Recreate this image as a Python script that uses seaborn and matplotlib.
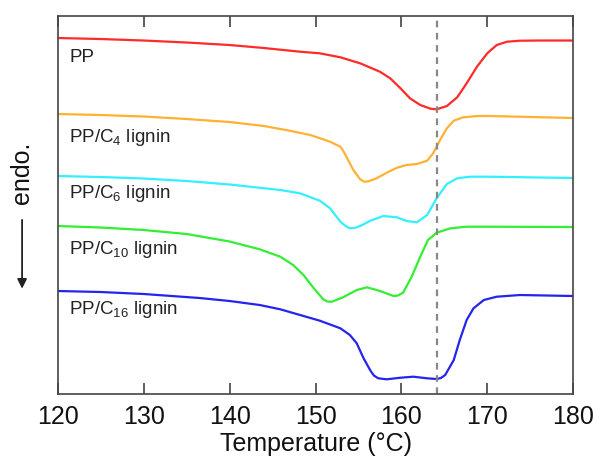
import numpy as np
import pandas as pd
import seaborn as sns
import matplotlib.pyplot as plt

# DSC melting curves (heat flow, a.u., curves offset)
t_pp = [120, 125, 130, 135, 140, 144, 148.2, 150.5, 152.9, 155.2, 157.5, 158.7, 159.9, 161.0, 162.2,
        163.4, 164.1, 165.3, 166.5, 167.6, 168.8, 170.0, 171.1, 172.3, 173.8, 176, 180]
y_pp = [35.6, 35.5, 35.35, 35.15, 34.9, 34.6, 34.23, 34.07, 33.67, 33.07, 32.23, 31.57, 30.57, 29.57, 28.9,
        28.53, 28.47, 28.8, 29.67, 31.07, 32.73, 34.07, 34.9, 35.23, 35.33, 35.35, 35.35]

t_c4 = [120, 125, 130, 135, 140, 144, 147.0, 149.4, 151.7, 152.9, 153.2, 153.6, 154.4, 155.2, 155.7, 156.2,
        157.1, 158.3, 159.5, 160.6, 161.8, 163.0, 163.7, 164.5, 165.3, 166.1, 167.2, 168.8, 170.3, 180]
y_c4 = [28.0, 27.9, 27.75, 27.5, 27.2, 26.8, 26.33, 25.9, 25.23, 24.73, 24.35, 23.73, 22.4, 21.47, 21.22, 21.28,
        21.57, 22.13, 22.63, 22.9, 23.0, 23.33, 24.07, 25.4, 26.57, 27.33, 27.67, 27.8, 27.8, 27.6]

t_c6 = [120, 125, 130, 135, 140, 145.9, 148.2, 150.5, 151.7, 152.9, 153.5, 154.0, 154.6, 155.2, 156.4,
        157.9, 159.5, 160.6, 161.8, 163.0, 164.1, 165.3, 166.5, 168.0, 170.3, 180]
y_c6 = [21.8, 21.7, 21.55, 21.3, 20.95, 20.4, 20.07, 19.33, 18.57, 17.23, 16.8, 16.57, 16.62, 16.8, 17.33,
        17.8, 17.67, 17.3, 17.17, 17.9, 19.57, 21.0, 21.57, 21.73, 21.73, 21.6]

t_c10 = [120, 125, 130, 135, 140, 143.5, 145.9, 147.4, 148.6, 149.8, 150.9, 151.4, 151.9, 153.2, 154.8,
         156.0, 157.5, 159.1, 159.6, 160.2, 161.2, 162.2, 163.1, 164.1, 165.7, 167.6, 170.3, 180]
y_c10 = [16.8, 16.65, 16.4, 16.0, 15.25, 14.47, 13.73, 12.9, 11.9, 10.57, 9.47, 9.25, 9.23, 9.67, 10.4,
         10.67, 10.3, 9.8, 9.85, 10.13, 11.73, 13.73, 15.4, 16.13, 16.57, 16.73, 16.73, 16.7]

t_c16 = [120, 125, 130, 136.5, 140, 143.5, 145.9, 148.2, 150.5, 152.9, 154.0, 154.8, 155.6, 156.4, 156.8,
         157.3, 158.3, 159.9, 161.4, 163.0, 164.1, 164.6, 165.1, 166.1, 166.8, 167.6, 168.4, 169.6, 171.1,
         173.8, 180]
y_c16 = [10.3, 10.2, 10.0, 9.6, 9.3, 8.9, 8.47, 7.9, 7.33, 6.57, 5.9, 5.07, 3.57, 2.33, 1.85,
         1.57, 1.47, 1.63, 1.73, 1.57, 1.5, 1.6, 1.9, 3.4, 5.4, 7.4, 8.57, 9.4, 9.73,
         9.9, 9.8]

samples = ['PP', 'PP/C4 lignin', 'PP/C6 lignin', 'PP/C10 lignin', 'PP/C16 lignin']
labels = ['PP', r'PP/C$_{4}$ lignin', r'PP/C$_{6}$ lignin', r'PP/C$_{10}$ lignin', r'PP/C$_{16}$ lignin']
label_y = [33.7, 25.7, 20.1, 14.5, 8.5]
colors = ['#ff2a2a', '#ffb133', '#33f0ff', '#33ee33', '#2424ee']
t_ref = 164.2

curves = [(t_pp, y_pp), (t_c4, y_c4), (t_c6, y_c6), (t_c10, y_c10), (t_c16, y_c16)]
df = pd.concat([pd.DataFrame({'T': t, 'H': h, 'sample': s}) for (t, h), s in zip(curves, samples)])

sns.set_style('ticks')
plt.rcParams['font.family'] = ['Liberation Sans', 'DejaVu Sans']
plt.rcParams['mathtext.fontset'] = 'custom'
plt.rcParams['mathtext.rm'] = 'Liberation Sans'
plt.rcParams['mathtext.it'] = 'Liberation Sans'

fig = plt.figure(figsize=(5.97, 4.59), dpi=100)
ax = fig.add_axes([0.097, 0.1416, 0.863, 0.8235])

sns.lineplot(data=df, x='T', y='H', hue='sample', palette=colors, sort=False,
             linewidth=1.6, legend=False, ax=ax)
for ln in ax.lines:
    ln.set_solid_joinstyle('round')
ax.axvline(t_ref, color='#888888', linestyle=(0, (3, 2.5)), linewidth=1.6)

for lab, yy in zip(labels, label_y):
    ax.text(121.3, yy, lab, fontsize=13.5, va='center', ha='left', color='#222222')

ax.set_xlim(120, 180)
ax.set_ylim(0, 37.8)
ax.set_xticks([120, 130, 140, 150, 160, 170, 180])
ax.set_yticks([])
ax.tick_params(axis='x', direction='in', top=True, length=8, width=1.1,
               labelsize=18, pad=8, colors='#333333', labelcolor='#111111')
for sp in ax.spines.values():
    sp.set_visible(True)
    sp.set_color('#444444')
    sp.set_linewidth(1.2)
ax.set_xlabel('Temperature (\u00b0C)', fontsize=18, labelpad=2, color='#111111')
ax.set_ylabel('')

# "endo." direction indicator on the left
fig.text(0.037, 0.623, 'endo.', rotation=90, fontsize=18, ha='center', va='center', color='#111111')
ax.annotate('', xy=(0.037, 0.365), xytext=(0.037, 0.527), xycoords='figure fraction',
            textcoords='figure fraction',
            arrowprops=dict(arrowstyle='-|>', color='#222222', lw=1.3, mutation_scale=14))

fig.savefig('out.png', dpi=100)
